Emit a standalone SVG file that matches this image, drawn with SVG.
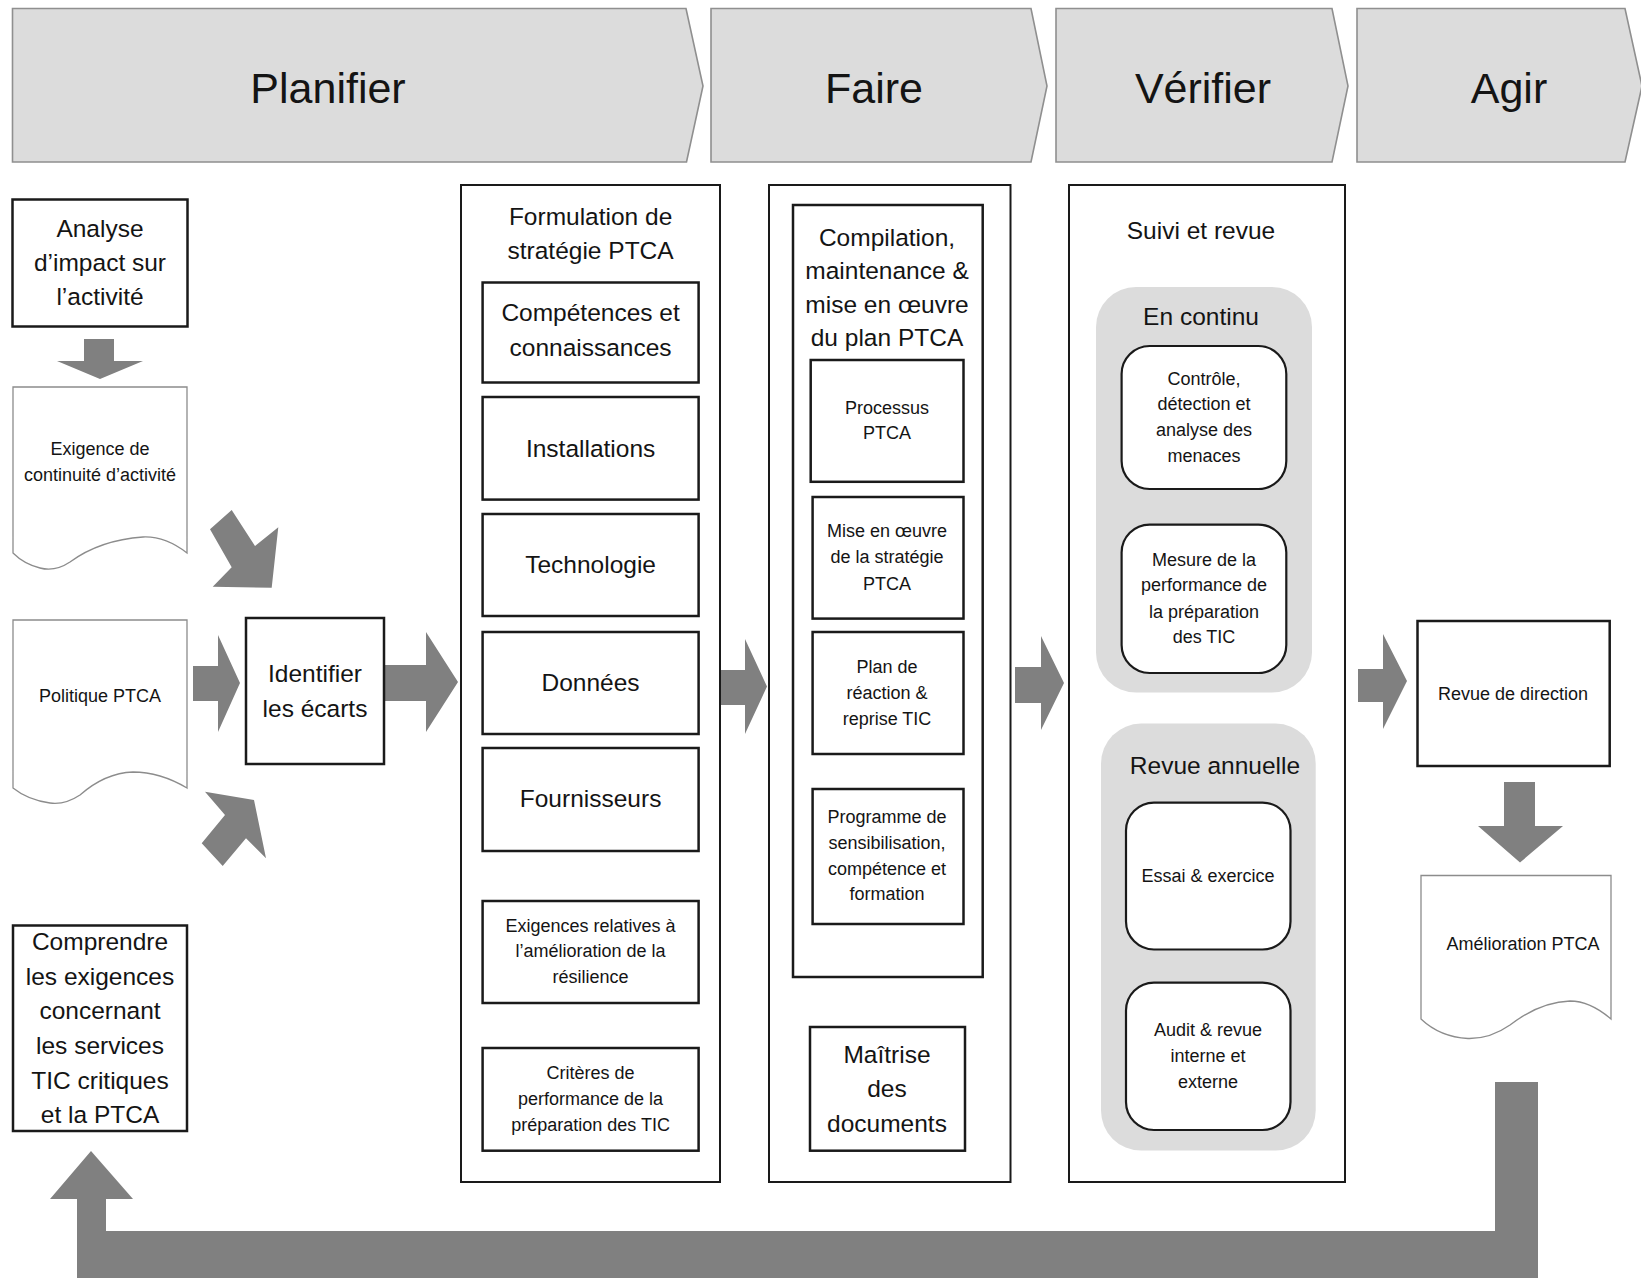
<svg xmlns="http://www.w3.org/2000/svg" width="1641" height="1278" viewBox="0 0 1641 1278">
<style>
text{font-family:"Liberation Sans",Arial,Helvetica,sans-serif;fill:#141414;text-anchor:middle}
.hd{font-size:43px}
.lg{font-size:24.5px}
.sm{font-size:18px}
.chev{fill:#dcdcdc;stroke:#8f8f8f;stroke-width:1.6}
.box{fill:#fff;stroke:#1a1a1a;stroke-width:2.5}
.col{fill:#fff;stroke:#1a1a1a;stroke-width:2}
.doc{fill:#fff;stroke:#8c8c8c;stroke-width:1.3}
.grp{fill:#dcdcdc;stroke:none}
.rbox{fill:#fff;stroke:#1a1a1a;stroke-width:2.2}
.arr{fill:#808080;stroke:none}
</style>
<rect width="1641" height="1278" fill="#fff"/>

<g id="phase-planifier"><path class="chev" d="M12.5,8.5 H686 L703,86 L686.5,162 H12.5 Z"/><text class="hd" x="328" y="103">Planifier</text></g>
<g id="phase-faire"><path class="chev" d="M711,8.5 H1031 L1047,86 L1031,162 H711 Z"/><text class="hd" x="874" y="103">Faire</text></g>
<g id="phase-verifier"><path class="chev" d="M1056,8.5 H1332 L1348,86 L1332,162 H1056 Z"/><text class="hd" x="1203" y="103">Vérifier</text></g>
<g id="phase-agir"><path class="chev" d="M1357,8.5 H1625 L1642,86 L1625,162 H1357 Z"/><text class="hd" x="1509" y="103">Agir</text></g>

<g id="connectors">
<polygon class="arr" points="84,339 114,339 114,361 143,361 100,379 57,361 84,361"/>
<polygon class="arr" points="231.7,510 255,546 278.3,527.3 271.7,587.7 212.7,586.7 231.7,567.3 210,529.3"/>
<polygon class="arr" points="193,666 218,666 218,635 240,683 218,732 218,701 193,701"/>
<polygon class="arr" points="201.7,843.3 225,815 205,791.7 254,800 266,858.3 246,838.3 222.7,866"/>
<polygon class="arr" points="384,665 426,665 426,632 458,682 426,732 426,701 384,701"/>
<polygon class="arr" points="720,670 745,670 745,639 767,686.5 745,734 745,705 720,705"/>
<polygon class="arr" points="1015,667 1041,667 1041,636 1064,683 1041,730 1041,703 1015,703"/>
<polygon class="arr" points="1358,669 1383,669 1383,634 1407,681 1383,729 1383,702 1358,702"/>
<polygon class="arr" points="1504,782 1535,782 1535,826 1563,826 1520,862.5 1478,826 1504,826"/>
<polygon class="arr" points="1538,1082 1538,1278 77,1278 77,1199 50,1199 91,1151 133,1199 106,1199 106,1231 1495,1231 1495,1082"/>
</g>

<g id="analyse-impact">
<rect class="box" x="12.5" y="199.5" width="175" height="127"/>
<text class="lg" x="100" y="237">Analyse</text>
<text class="lg" x="100" y="271">d’impact sur</text>
<text class="lg" x="100" y="305">l’activité</text>
</g>

<g id="exigence-continuite">
<path class="doc" d="M13,387 H187 V553 Q165,536 143,537 Q100,540 70,562 Q55,572 40,568 Q24,564 13,553 Z"/>
<text class="sm" x="100" y="455">Exigence de</text>
<text class="sm" x="100" y="481">continuité d’activité</text>
</g>

<g id="politique-ptca">
<path class="doc" d="M13,620 H187 V788 Q160,772 133,772 Q105,773 80,795 Q65,805 50,803 Q28,800 13,788 Z"/>
<text class="sm" x="100" y="702">Politique PTCA</text>
</g>

<g id="identifier-ecarts">
<rect class="box" x="246" y="618" width="138" height="146"/>
<text class="lg" x="315" y="682">Identifier</text>
<text class="lg" x="315" y="717">les écarts</text>
</g>

<g id="comprendre-exigences">
<rect class="box" x="13" y="925.5" width="174" height="205.5"/>
<text class="lg" x="100" y="950">Comprendre</text>
<text class="lg" x="100" y="985">les exigences</text>
<text class="lg" x="100" y="1019">concernant</text>
<text class="lg" x="100" y="1054">les services</text>
<text class="lg" x="100" y="1088.5">TIC critiques</text>
<text class="lg" x="100" y="1123">et la PTCA</text>
</g>

<g id="formulation-strategie">
<rect class="col" x="461" y="185" width="259" height="997"/>
<text class="lg" x="590.6" y="224.6">Formulation de</text>
<text class="lg" x="590.6" y="259.3">stratégie PTCA</text>
</g>
<g id="competences">
<rect class="box" x="482.6" y="282.5" width="216" height="100"/>
<text class="lg" x="590.6" y="321">Compétences et</text>
<text class="lg" x="590.6" y="356">connaissances</text>
</g>
<g id="installations">
<rect class="box" x="482.6" y="397" width="216" height="102.6"/>
<text class="lg" x="590.6" y="456.8">Installations</text>
</g>
<g id="technologie">
<rect class="box" x="482.6" y="514" width="216" height="102"/>
<text class="lg" x="590.6" y="573">Technologie</text>
</g>
<g id="donnees">
<rect class="box" x="482.6" y="632" width="216" height="102"/>
<text class="lg" x="590.6" y="690.7">Données</text>
</g>
<g id="fournisseurs">
<rect class="box" x="482.6" y="748" width="216" height="103"/>
<text class="lg" x="590.6" y="807">Fournisseurs</text>
</g>
<g id="exigences-resilience">
<rect class="box" x="482.6" y="901" width="216" height="102"/>
<text class="sm" x="590.6" y="931.7">Exigences relatives à</text>
<text class="sm" x="590.6" y="957">l’amélioration de la</text>
<text class="sm" x="590.6" y="983">résilience</text>
</g>
<g id="criteres-performance">
<rect class="box" x="482.6" y="1048" width="216" height="102.7"/>
<text class="sm" x="590.6" y="1079">Critères de</text>
<text class="sm" x="590.6" y="1105">performance de la</text>
<text class="sm" x="590.6" y="1130.7">préparation des TIC</text>
</g>

<g id="faire-colonne">
<rect class="col" x="769" y="185" width="241.5" height="997"/>
</g>
<g id="compilation-plan">
<rect class="box" x="793" y="205" width="189.7" height="772" stroke-width="3"/>
<text class="lg" x="887" y="246">Compilation,</text>
<text class="lg" x="887" y="279">maintenance &amp;</text>
<text class="lg" x="887" y="312.5">mise en œuvre</text>
<text class="lg" x="887" y="346">du plan PTCA</text>
</g>
<g id="processus-ptca">
<rect class="box" x="810.7" y="360" width="152.8" height="121.8"/>
<text class="sm" x="887" y="414">Processus</text>
<text class="sm" x="887" y="439">PTCA</text>
</g>
<g id="mise-en-oeuvre-strategie">
<rect class="box" x="812.6" y="497" width="150.9" height="121.6"/>
<text class="sm" x="887" y="537">Mise en œuvre</text>
<text class="sm" x="887" y="563">de la stratégie</text>
<text class="sm" x="887" y="589.6">PTCA</text>
</g>
<g id="plan-reaction">
<rect class="box" x="812.6" y="632" width="150.9" height="122"/>
<text class="sm" x="887" y="673">Plan de</text>
<text class="sm" x="887" y="698.6">réaction &amp;</text>
<text class="sm" x="887" y="724.6">reprise TIC</text>
</g>
<g id="programme-sensibilisation">
<rect class="box" x="812.6" y="789" width="150.9" height="135"/>
<text class="sm" x="887" y="823">Programme de</text>
<text class="sm" x="887" y="849">sensibilisation,</text>
<text class="sm" x="887" y="875">compétence et</text>
<text class="sm" x="887" y="900">formation</text>
</g>
<g id="maitrise-documents">
<rect class="box" x="810" y="1027" width="155" height="123.7"/>
<text class="lg" x="887" y="1062.7">Maîtrise</text>
<text class="lg" x="887" y="1096.7">des</text>
<text class="lg" x="887" y="1131.7">documents</text>
</g>

<g id="suivi-revue">
<rect class="col" x="1069" y="185" width="276" height="997"/>
<text class="lg" x="1201" y="239">Suivi et revue</text>
</g>
<g id="en-continu">
<rect class="grp" x="1096" y="287" width="216" height="405.5" rx="40"/>
<text class="lg" x="1201" y="324.6">En continu</text>
</g>
<g id="controle-menaces">
<rect class="rbox" x="1121.6" y="346" width="164.7" height="143" rx="28"/>
<text class="sm" x="1204" y="385">Contrôle,</text>
<text class="sm" x="1204" y="410">détection et</text>
<text class="sm" x="1204" y="436.4">analyse des</text>
<text class="sm" x="1204" y="462">menaces</text>
</g>
<g id="mesure-performance">
<rect class="rbox" x="1121.6" y="524.6" width="164.7" height="148.4" rx="28"/>
<text class="sm" x="1204" y="565.7">Mesure de la</text>
<text class="sm" x="1204" y="591.4">performance de</text>
<text class="sm" x="1204" y="617.5">la préparation</text>
<text class="sm" x="1204" y="642.5">des TIC</text>
</g>
<g id="revue-annuelle">
<rect class="grp" x="1101" y="723.6" width="214.7" height="427" rx="40"/>
<text class="lg" x="1215" y="774">Revue annuelle</text>
</g>
<g id="essai-exercice">
<rect class="rbox" x="1126" y="802.6" width="164.5" height="146.9" rx="28"/>
<text class="sm" x="1208" y="882">Essai &amp; exercice</text>
</g>
<g id="audit-revue">
<rect class="rbox" x="1126" y="982.6" width="164.5" height="147.4" rx="28"/>
<text class="sm" x="1208" y="1036">Audit &amp; revue</text>
<text class="sm" x="1208" y="1061.6">interne et</text>
<text class="sm" x="1208" y="1088">externe</text>
</g>

<g id="revue-direction">
<rect class="box" x="1417.5" y="621" width="192.2" height="145" stroke-width="2.2"/>
<text class="sm" x="1513" y="699.6">Revue de direction</text>
</g>
<g id="amelioration-ptca">
<path class="doc" d="M1421,875.5 H1611 V1019 Q1590,1001 1570,1001 Q1540,1002 1510,1025 Q1490,1039 1468,1038.5 Q1440,1037 1421,1019 Z"/>
<text class="sm" x="1523" y="949.5">Amélioration PTCA</text>
</g>
</svg>
